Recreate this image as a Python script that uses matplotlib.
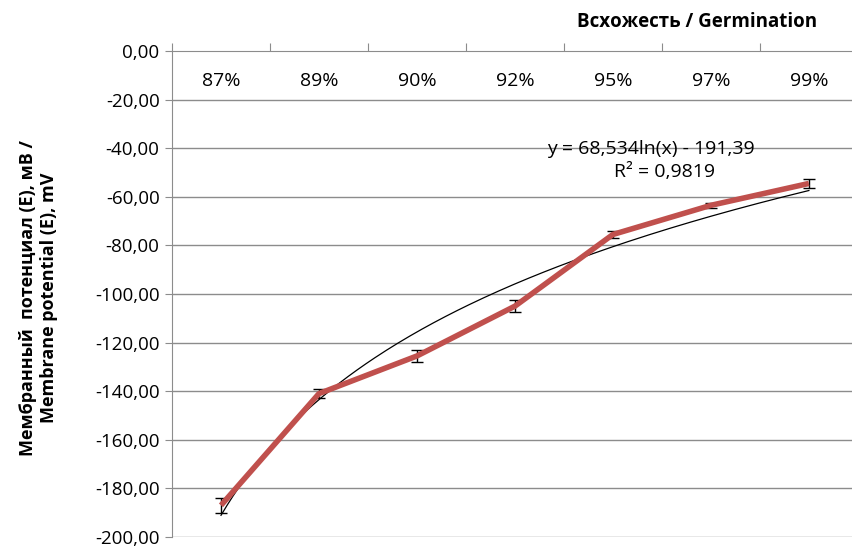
import matplotlib.pyplot as plt
import numpy as np

plt.rcParams['font.family'] = ['Open Sans', 'DejaVu Sans']

# Data
germination = ['87%', '89%', '90%', '92%', '95%', '97%', '99%']
potential = [-187.0, -141.0, -125.5, -105.0, -75.5, -63.5, -54.5]
potential_err = [3.0, 2.0, 2.5, 2.5, 1.5, 1.0, 2.0]

x = np.arange(1, len(germination) + 1)

# logarithmic trend line, as the spreadsheet does it
a, b = np.polyfit(np.log(x), potential, 1)
xt = np.linspace(1, len(germination), 200)
yt = a * np.log(xt) + b

fig = plt.figure(figsize=(8.52, 5.49), dpi=100)
ax = fig.add_axes([0.2019, 0.022, 0.805, 0.885])

grid_col = '#8c8c8c'
for yv in np.arange(-200, 0, 20):
    ax.axhline(yv, color=grid_col, lw=1.0, zorder=0)

ax.plot(xt, yt, color='black', lw=0.9, zorder=2)
ax.errorbar(x, potential, yerr=potential_err, fmt='none', ecolor='black',
            elinewidth=1.0, capsize=4, capthick=1.0, zorder=3)
ax.plot(x, potential, color='#C0504D', lw=4, solid_capstyle='butt', zorder=4)

ax.set_xlim(0.5, len(germination) + 0.5)
ax.set_ylim(-200, 0)
ax.set_yticks(np.arange(-200, 1, 20))
ax.set_yticklabels([('%.2f' % v).replace('.', ',') if v != 0 else '0,00'
                    for v in np.arange(-200, 1, 20)])
ax.tick_params(axis='y', length=5, color=grid_col, labelsize=13.5, pad=4)

# top axis at y=0 with category ticks on boundaries
ax.spines['right'].set_visible(False)
ax.spines['bottom'].set_visible(False)
ax.spines['top'].set_color(grid_col)
ax.spines['left'].set_color(grid_col)
ax.xaxis.tick_top()
ax.set_xticks(np.arange(0.5, len(germination) + 1, 1))
ax.set_xticklabels([])
ax.tick_params(axis='x', length=6, color=grid_col, direction='out')
for xi, lab in zip(x, germination):
    ax.text(xi, -12.2, lab, ha='center', va='center', fontsize=14)

ax.set_ylabel('Мембранный  потенциал (E), мВ /\nMembrane potential (E), mV',
              fontsize=13, fontweight='bold')
ax.yaxis.set_label_coords(-0.166, 0.492)
fig.text(0.818, 0.96, 'Всхожесть / Germination', ha='center', va='center',
         fontsize=13.5, fontweight='bold')

ax.text(5.39, -40.4, 'y = 68,534ln(x) - 191,39', ha='center', va='center', fontsize=14)
ax.text(5.53, -49.8, 'R² = 0,9819', ha='center', va='center', fontsize=14)

fig.savefig('out.png', dpi=100)
